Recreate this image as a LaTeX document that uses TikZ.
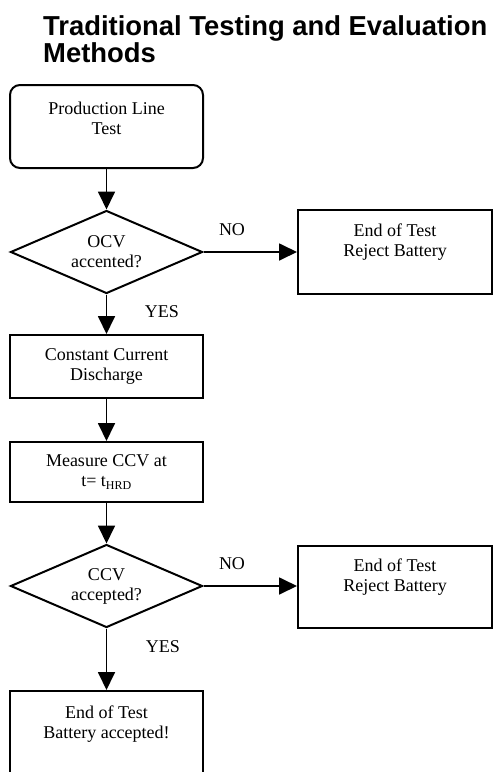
\documentclass[tikz,border=0pt]{standalone}
\usepackage{fontspec}
\setmainfont{Liberation Serif}
\newfontfamily\headfont{Liberation Sans}
\usetikzlibrary{shapes.geometric,arrows.meta}
\tikzset{
  stepbox/.style={draw, line width=2pt, minimum width=193pt, align=center,
    font=\fontsize{18}{20}\selectfont},
  decision/.style={stepbox, diamond, shape aspect=2.3, minimum width=192pt, minimum height=83pt, inner sep=0pt},
  flow/.style={line width=1.8pt, -{Triangle[length=18pt,width=17pt]}},
  answer/.style={font=\fontsize{18}{20}\selectfont}
}
\begin{document}
\begin{tikzpicture}[x=1pt, y=-1pt]
\useasboundingbox (0,0) rectangle (493,772);
\def\xl{106.5}
\def\xr{395}
% title
\node (title) [anchor=north west, inner sep=0pt, align=left,
  font=\headfont\bfseries\fontsize{27.4}{27}\selectfont] at (43,15)
  {Traditional Testing and Evaluation\\Methods};
% main column
\node (prod) [stepbox, rounded corners=10pt, minimum height=83pt, text depth=16pt] at (\xl,126.5) {Production Line\\Test};
\node (ocv) [decision] at (\xl,252) {OCV\\accented?};
\node (dis) [stepbox, minimum height=63pt] at (\xl,366.5) {Constant Current\\Discharge};
\node (meas) [stepbox, minimum height=60pt] at (\xl,472) {Measure CCV at\\t= t\textsubscript{\fontsize{12}{12}\selectfont HRD}};
\node (ccv) [decision] at (\xl,586) {CCV\\accepted?};
\node (pass) [stepbox, anchor=north, minimum height=130pt, text depth=68pt] at (\xl,690) {End of Test\\Battery accepted!};
% reject boxes
\node (rejA) [stepbox, minimum width=194pt, minimum height=84pt, text depth=23pt] at (\xr,252) {End of Test\\Reject Battery};
\node (rejB) [stepbox, minimum width=194pt, minimum height=82pt, text depth=23pt] at (\xr,587) {End of Test\\Reject Battery};
% answers
\node (noA) [answer] at (232,230) {NO};
\node (yesA) [answer] at (162,312) {YES};
\node (noB) [answer] at (232,564) {NO};
\node (yesB) [answer] at (163,647) {YES};
% arrows
\draw[flow] (prod) -- (ocv);
\draw[flow] (ocv) -- (dis);
\draw[flow] (dis) -- (meas);
\draw[flow] (meas) -- (ccv);
\draw[flow] (ccv) -- (pass);
\draw[flow] (ocv.east) -- (rejA.west);
\draw[flow] (ccv.east) -- (ccv.east -| rejB.west);
\end{tikzpicture}
\end{document}
